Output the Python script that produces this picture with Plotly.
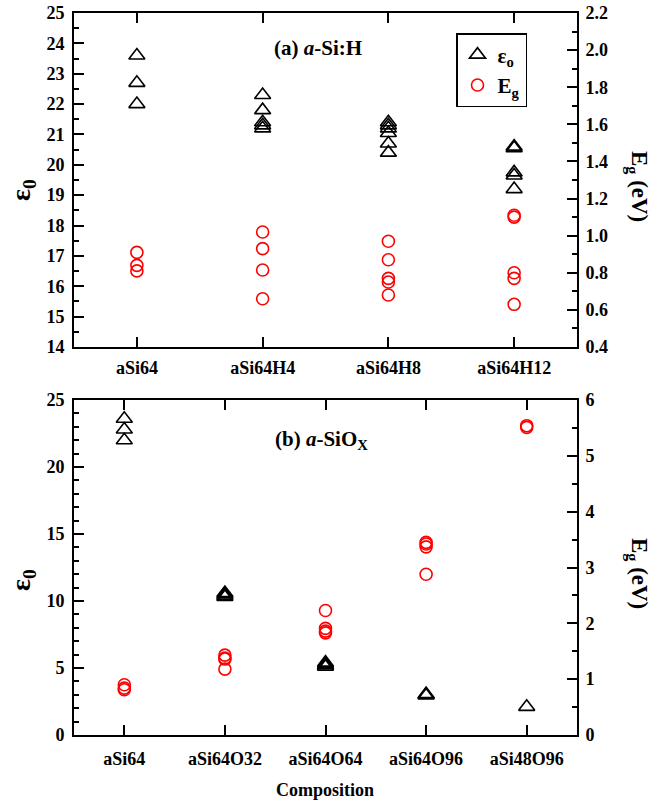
import plotly.graph_objects as go

# ---------- data ----------
cats_a = ["aSi64", "aSi64H4", "aSi64H8", "aSi64H12"]
eps_a = [
    [23.6, 22.7, 22.0],
    [22.3, 21.8, 21.4, 21.3, 21.2],
    [21.4, 21.3, 21.2, 21.05, 20.7, 20.4],
    [20.6, 20.55, 19.75, 19.65, 19.2],
]
eg_a = [
    [0.91, 0.84, 0.81],
    [1.02, 0.93, 0.815, 0.66],
    [0.97, 0.87, 0.77, 0.75, 0.68],
    [1.11, 1.10, 0.80, 0.77, 0.63],
]

cats_b = ["aSi64", "aSi64O32", "aSi64O64", "aSi64O96", "aSi48O96"]
eps_b = [
    [23.6, 22.8, 22.0],
    [10.6, 10.5, 10.4, 10.3],
    [5.4, 5.3, 5.2, 5.1],
    [3.05, 3.0, 2.95],
    [2.1],
]
eg_b = [
    [0.90, 0.84, 0.81],
    [1.43, 1.38, 1.36, 1.18],
    [2.23, 1.91, 1.86, 1.83],
    [3.45, 3.42, 3.37, 2.88],
    [5.54, 5.51],
]


def flat(cats, vals):
    xs, ys = [], []
    for c, vs in zip(cats, vals):
        for v in vs:
            xs.append(c)
            ys.append(v)
    return xs, ys


FONT = "Liberation Serif"
W, H = 653, 801


def px(X):
    return X / W


def py(Y):
    return 1 - Y / H


xl, xr = px(74), px(577)
ya = [py(347), py(13)]
yb = [py(735), py(400)]

tri = dict(symbol="triangle-up-open", size=14, color="black", line=dict(width=1.6, color="black"))
cir = dict(symbol="circle-open", size=12, color="red", line=dict(width=1.6, color="red"))

fig = go.Figure()
x, y = flat(cats_a, eps_a)
fig.add_trace(go.Scatter(x=x, y=y, mode="markers", marker=tri, name="ε<sub>o</sub>",
                         xaxis="x", yaxis="y"))
x, y = flat(cats_a, eg_a)
fig.add_trace(go.Scatter(x=x, y=y, mode="markers", marker=cir, name="E<sub>g</sub>",
                         xaxis="x", yaxis="y2"))
x, y = flat(cats_b, eps_b)
fig.add_trace(go.Scatter(x=x, y=y, mode="markers", marker=tri, showlegend=False,
                         xaxis="x2", yaxis="y3"))
x, y = flat(cats_b, eg_b)
fig.add_trace(go.Scatter(x=x, y=y, mode="markers", marker=cir, showlegend=False,
                         xaxis="x2", yaxis="y4"))

tickfont = dict(family=FONT, size=18, color="black", weight="bold")
common = dict(showline=True, linewidth=2, linecolor="black", ticks="inside", ticklen=10,
              tickwidth=2, tickcolor="black", showgrid=False, zeroline=False,
              tickfont=tickfont, automargin=False)


def minor(d):
    return dict(dtick=d, ticks="inside", ticklen=5, tickwidth=2, tickcolor="black", showgrid=False)


fig.update_layout(
    width=W, height=H, margin=dict(l=0, r=0, t=0, b=0),
    paper_bgcolor="white", plot_bgcolor="white",
    xaxis=dict(domain=[xl, xr], anchor="y", type="category", categoryorder="array",
               categoryarray=cats_a, range=[-0.5, 3.5], mirror="ticks", ticklabelstandoff=3,
               **common),
    yaxis=dict(domain=ya, anchor="x", range=[14, 25], dtick=1, minor=minor(0.5),
               ticklabelstandoff=4, **common),
    yaxis2=dict(overlaying="y", anchor="x", side="right", range=[0.4, 2.2], dtick=0.2,
                tickformat=".1f", minor=minor(0.1), ticklabelstandoff=3, **common),
    xaxis2=dict(domain=[xl, xr], anchor="y3", type="category", categoryorder="array",
                categoryarray=cats_b, range=[-0.5, 4.5], mirror="ticks", ticklabelstandoff=6,
                **common),
    yaxis3=dict(domain=yb, anchor="x2", range=[0, 25], dtick=5, minor=minor(1),
                ticklabelstandoff=4, **common),
    yaxis4=dict(overlaying="y3", anchor="x2", side="right", range=[0, 6], dtick=1,
                minor=minor(0.5), ticklabelstandoff=3, **common),
    legend=dict(x=px(456), y=py(33), xanchor="left", yanchor="top",
                bordercolor="black", borderwidth=1.5, bgcolor="white",
                font=dict(family=FONT, size=21, color="black", weight="bold")),
    showlegend=True,
)


def note(text, X, Y, size, angle=0):
    return dict(text=text, x=px(X), y=py(Y), xref="paper", yref="paper", xanchor="center",
                yanchor="middle", showarrow=False, textangle=angle,
                font=dict(family=FONT, size=size, color="black"))


ann = [
    note("<b>(a) <i>a</i>-Si:H</b>", 318, 48, 21),
    note("<b>(b) <i>a</i>-SiO<sub>X</sub></b>", 321, 440, 21),
    note("<b>ε<sub>0</sub></b>", 22, 190, 28, -90),
    note("<b>ε<sub>0</sub></b>", 22, 580, 28, -90),
    note("<b>E<sub>g</sub> (eV)</b>", 638, 186, 23, 90),
    note("<b>E<sub>g</sub> (eV)</b>", 638, 573, 23, 90),
    note("<b>Composition</b>", 325, 790, 18),
]
fig.update_layout(annotations=ann)

fig.write_html("out.html", config={"displayModeBar": False},
               post_script="document.body.style.margin='0px';document.body.style.overflow='hidden';")
